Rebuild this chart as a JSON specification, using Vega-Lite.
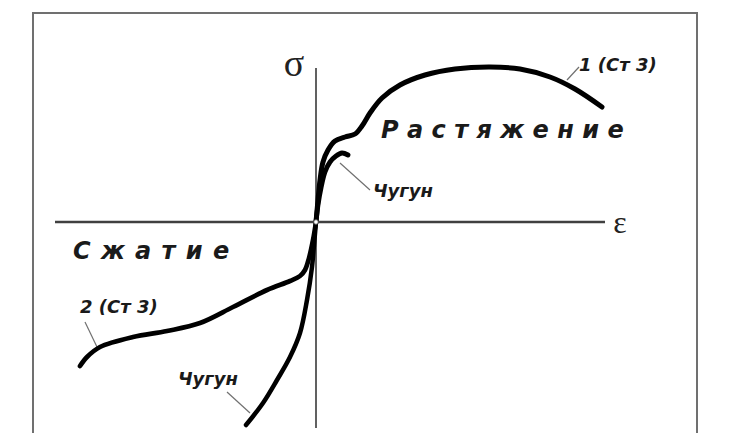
{
  "$schema": "https://vega.github.io/schema/vega-lite/v6.json",
  "width": 734,
  "height": 433,
  "padding": 0,
  "autosize": {"type": "none"},
  "background": "white",
  "config": {"view": {"stroke": null}},
  "datasets": {
    "frame": [{"x1": -28.3, "x2": 38.1, "y1": 20.9, "y2": -23}],
    "haxis": [{"x1": -26.1, "x2": 28.9, "y": 0}],
    "vaxis": [{"x": 0, "y1": 15.4, "y2": -20.6}],
    "leaders": [
      {"id": "1", "x1": 25.1, "y1": 14.2, "x2": 26.3, "y2": 15.5},
      {"id": "ct", "x1": 2.4, "y1": 5.9, "x2": 5.4, "y2": 3.2},
      {"id": "2", "x1": -21.9, "y1": -12.5, "x2": -23.1, "y2": -10.0},
      {"id": "cc", "x1": -6.6, "y1": -19.1, "x2": -8.9, "y2": -17.0}
    ],
    "curves": [
      {"series": "1 (Ст 3)", "ord": 0, "eps": 0, "sig": 0},
      {"series": "1 (Ст 3)", "ord": 1, "eps": 0.2, "sig": 2.2},
      {"series": "1 (Ст 3)", "ord": 2, "eps": 0.4, "sig": 4.2},
      {"series": "1 (Ст 3)", "ord": 3, "eps": 0.7, "sig": 6.0},
      {"series": "1 (Ст 3)", "ord": 4, "eps": 1.2, "sig": 7.2},
      {"series": "1 (Ст 3)", "ord": 5, "eps": 1.9, "sig": 8.1},
      {"series": "1 (Ст 3)", "ord": 6, "eps": 2.9, "sig": 8.5},
      {"series": "1 (Ст 3)", "ord": 7, "eps": 3.9, "sig": 8.8},
      {"series": "1 (Ст 3)", "ord": 8, "eps": 4.6, "sig": 9.6},
      {"series": "1 (Ст 3)", "ord": 9, "eps": 5.4, "sig": 10.9},
      {"series": "1 (Ст 3)", "ord": 10, "eps": 6.6, "sig": 12.4},
      {"series": "1 (Ст 3)", "ord": 11, "eps": 8.4, "sig": 13.7},
      {"series": "1 (Ст 3)", "ord": 12, "eps": 10.9, "sig": 14.7},
      {"series": "1 (Ст 3)", "ord": 13, "eps": 13.9, "sig": 15.3},
      {"series": "1 (Ст 3)", "ord": 14, "eps": 17.4, "sig": 15.5},
      {"series": "1 (Ст 3)", "ord": 15, "eps": 20.4, "sig": 15.3},
      {"series": "1 (Ст 3)", "ord": 16, "eps": 23.4, "sig": 14.5},
      {"series": "1 (Ст 3)", "ord": 17, "eps": 25.9, "sig": 13.3},
      {"series": "1 (Ст 3)", "ord": 18, "eps": 28.6, "sig": 11.5},
      {"series": "Чугун растяжение", "ord": 0, "eps": 0, "sig": 0},
      {"series": "Чугун растяжение", "ord": 1, "eps": 0.2, "sig": 1.7},
      {"series": "Чугун растяжение", "ord": 2, "eps": 0.5, "sig": 3.4},
      {"series": "Чугун растяжение", "ord": 3, "eps": 0.9, "sig": 5.0},
      {"series": "Чугун растяжение", "ord": 4, "eps": 1.4, "sig": 6.0},
      {"series": "Чугун растяжение", "ord": 5, "eps": 2.0, "sig": 6.6},
      {"series": "Чугун растяжение", "ord": 6, "eps": 2.6, "sig": 6.9},
      {"series": "Чугун растяжение", "ord": 7, "eps": 3.2, "sig": 6.7},
      {"series": "2 (Ст 3)", "ord": 0, "eps": 0, "sig": 0},
      {"series": "2 (Ст 3)", "ord": 1, "eps": -0.3, "sig": -1.8},
      {"series": "2 (Ст 3)", "ord": 2, "eps": -0.7, "sig": -3.6},
      {"series": "2 (Ст 3)", "ord": 3, "eps": -1.1, "sig": -4.8},
      {"series": "2 (Ст 3)", "ord": 4, "eps": -1.6, "sig": -5.4},
      {"series": "2 (Ст 3)", "ord": 5, "eps": -2.6, "sig": -5.9},
      {"series": "2 (Ст 3)", "ord": 6, "eps": -4.9, "sig": -6.8},
      {"series": "2 (Ст 3)", "ord": 7, "eps": -8.3, "sig": -8.5},
      {"series": "2 (Ст 3)", "ord": 8, "eps": -11.6, "sig": -10.1},
      {"series": "2 (Ст 3)", "ord": 9, "eps": -14.9, "sig": -10.9},
      {"series": "2 (Ст 3)", "ord": 10, "eps": -18.3, "sig": -11.5},
      {"series": "2 (Ст 3)", "ord": 11, "eps": -21.6, "sig": -12.5},
      {"series": "2 (Ст 3)", "ord": 12, "eps": -22.9, "sig": -13.5},
      {"series": "2 (Ст 3)", "ord": 13, "eps": -23.6, "sig": -14.4},
      {"series": "Чугун сжатие", "ord": 0, "eps": 0, "sig": 0},
      {"series": "Чугун сжатие", "ord": 1, "eps": -0.2, "sig": -2.3},
      {"series": "Чугун сжатие", "ord": 2, "eps": -0.4, "sig": -4.5},
      {"series": "Чугун сжатие", "ord": 3, "eps": -0.9, "sig": -7.8},
      {"series": "Чугун сжатие", "ord": 4, "eps": -1.6, "sig": -11.1},
      {"series": "Чугун сжатие", "ord": 5, "eps": -2.6, "sig": -13.5},
      {"series": "Чугун сжатие", "ord": 6, "eps": -3.9, "sig": -15.8},
      {"series": "Чугун сжатие", "ord": 7, "eps": -5.3, "sig": -18.1},
      {"series": "Чугун сжатие", "ord": 8, "eps": -7.0, "sig": -20.3}
    ],
    "origin": [{"eps": 0, "sig": 0}],
    "sigma": [{"text": "σ", "eps": -2.2, "sig": 15.7}],
    "epsilon": [{"text": "ε", "eps": 30.4, "sig": -0.1}],
    "titles": [
      {"text": "Р\u2005\u200aа\u2005\u200aс\u2005\u200aт\u2005\u200aя\u2005\u200aж\u2005\u200aе\u2005\u200aн\u2005\u200aи\u2005\u200aе", "eps": 6.5, "sig": 9.1},
      {"text": "С\u2004\u200aж\u2004\u200aа\u2004\u200aт\u2004\u200aи\u2004\u200aе", "eps": -24.3, "sig": -3.0}
    ],
    "labels": [
      {"text": "1 (Ст 3)", "eps": 26.3, "sig": 15.6},
      {"text": "Чугун", "eps": 5.7, "sig": 3.0},
      {"text": "2 (Ст 3)", "eps": -23.6, "sig": -8.6},
      {"text": "Чугун", "eps": -13.8, "sig": -15.8}
    ]
  },
  "layer": [
    {
      "data": {"name": "frame"},
      "mark": {"type": "rect", "filled": false, "stroke": "#707070", "strokeWidth": 2, "clip": true},
      "encoding": {
        "x": {"field": "x1", "type": "quantitative", "scale": {"domain": [-31.6, 41.8], "nice": false, "zero": false}, "axis": null},
        "x2": {"field": "x2"},
        "y": {"field": "y1", "type": "quantitative", "scale": {"domain": [-21.1, 22.2], "nice": false, "zero": false}, "axis": null},
        "y2": {"field": "y2"}
      }
    },
    {
      "data": {"name": "haxis"},
      "mark": {"type": "rule", "stroke": "#404040", "strokeWidth": 2.5},
      "encoding": {
        "x": {"field": "x1", "type": "quantitative"},
        "x2": {"field": "x2"},
        "y": {"field": "y", "type": "quantitative"}
      }
    },
    {
      "data": {"name": "vaxis"},
      "mark": {"type": "rule", "stroke": "#505050", "strokeWidth": 1.8},
      "encoding": {
        "x": {"field": "x", "type": "quantitative"},
        "y": {"field": "y1", "type": "quantitative"},
        "y2": {"field": "y2"}
      }
    },
    {
      "data": {"name": "leaders"},
      "mark": {"type": "rule", "stroke": "#707070", "strokeWidth": 1.2},
      "encoding": {
        "x": {"field": "x1", "type": "quantitative"},
        "x2": {"field": "x2"},
        "y": {"field": "y1", "type": "quantitative"},
        "y2": {"field": "y2"}
      }
    },
    {
      "data": {"name": "curves"},
      "mark": {"type": "line", "interpolate": "catmull-rom", "stroke": "black", "strokeCap": "round", "strokeJoin": "round"},
      "encoding": {
        "x": {"field": "eps", "type": "quantitative"},
        "y": {"field": "sig", "type": "quantitative"},
        "detail": {"field": "series", "type": "nominal"},
        "order": {"field": "ord", "type": "quantitative"},
        "strokeWidth": {"field": "series", "type": "nominal", "scale": {"domain": ["1 (Ст 3)", "Чугун растяжение", "2 (Ст 3)", "Чугун сжатие"], "range": [5, 4.5, 5, 4]}, "legend": null}
      }
    },
    {
      "data": {"name": "origin"},
      "mark": {"type": "point", "filled": true, "fill": "white", "stroke": "#555", "strokeWidth": 1, "size": 22, "opacity": 1},
      "encoding": {
        "x": {"field": "eps", "type": "quantitative"},
        "y": {"field": "sig", "type": "quantitative"}
      }
    },
    {
      "data": {"name": "sigma"},
      "mark": {"type": "text", "font": "Liberation Serif", "fontSize": 38, "align": "center", "baseline": "middle", "color": "#222"},
      "encoding": {
        "x": {"field": "eps", "type": "quantitative"},
        "y": {"field": "sig", "type": "quantitative"},
        "text": {"field": "text"}
      }
    },
    {
      "data": {"name": "epsilon"},
      "mark": {"type": "text", "font": "Liberation Serif", "fontSize": 32, "align": "center", "baseline": "middle", "color": "#222"},
      "encoding": {
        "x": {"field": "eps", "type": "quantitative"},
        "y": {"field": "sig", "type": "quantitative"},
        "text": {"field": "text"}
      }
    },
    {
      "data": {"name": "titles"},
      "mark": {"type": "text", "font": "DejaVu Sans", "fontSize": 24, "fontWeight": "bold", "fontStyle": "italic", "align": "left", "baseline": "middle", "color": "#1a1a1a"},
      "encoding": {
        "x": {"field": "eps", "type": "quantitative"},
        "y": {"field": "sig", "type": "quantitative"},
        "text": {"field": "text"}
      }
    },
    {
      "data": {"name": "labels"},
      "mark": {"type": "text", "font": "DejaVu Sans", "fontSize": 18, "fontWeight": "bold", "fontStyle": "italic", "align": "left", "baseline": "middle", "color": "#1a1a1a"},
      "encoding": {
        "x": {"field": "eps", "type": "quantitative"},
        "y": {"field": "sig", "type": "quantitative"},
        "text": {"field": "text"}
      }
    }
  ]
}
